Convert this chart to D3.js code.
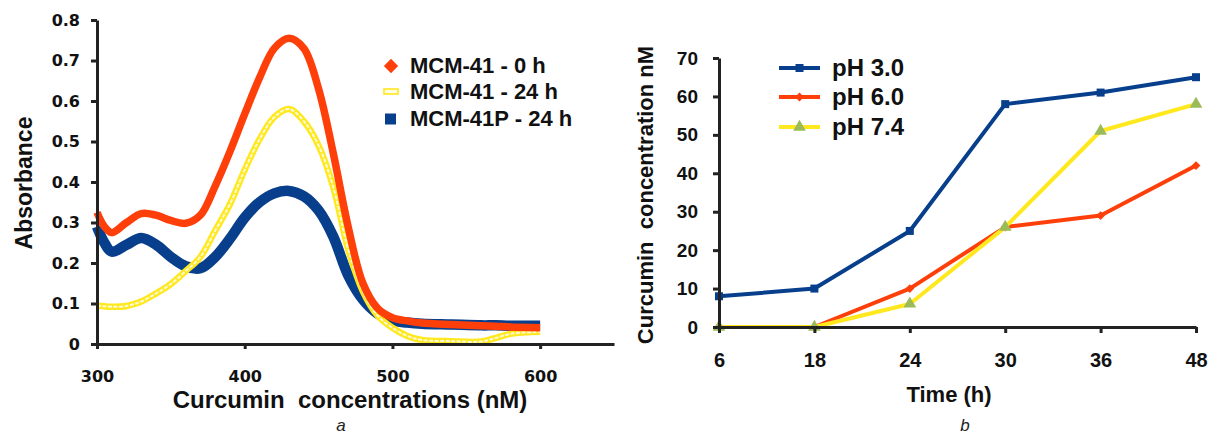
<!DOCTYPE html>
<html>
<head>
<meta charset="utf-8">
<script src="https://cdn.jsdelivr.net/npm/d3@7"></script>
<style>
  body { margin: 0; background: #fff; }
  svg { display: block; }
  .tickA text { font-family: "DejaVu Sans", sans-serif; font-weight: bold; font-size: 16px; fill: #111; }
  .tickB text { font-family: "Liberation Sans", Arial, sans-serif; font-weight: bold; fill: #111; }
  .axis path, .axis line { stroke: #222; stroke-width: 3; }
  .ttl { font-family: "Liberation Sans", Arial, sans-serif; font-weight: bold; fill: #111; }
</style>
</head>
<body>
<div id="container"></div>
<script>
// ---- panel a : absorbance spectra ----
var wavelengths = [300,305,310,320,330,340,350,360,370,380,390,400,410,420,430,440,450,460,470,480,490,500,510,520,540,560,570,580,600];
var abs0h   = [.325,.29,.275,.30,.322,.318,.305,.298,.318,.39,.475,.568,.657,.73,.755,.73,.63,.47,.29,.15,.088,.065,.057,.052,.048,.045,.044,.042,.04];
var abs24h  = [.095,.093,.092,.094,.105,.125,.148,.18,.215,.28,.345,.43,.505,.56,.58,.55,.49,.387,.235,.13,.07,.04,.02,.01,.007,.006,.015,.025,.03];
var absP24h = [.29,.25,.228,.245,.262,.245,.215,.192,.187,.215,.26,.312,.35,.372,.378,.365,.33,.265,.17,.11,.075,.058,.053,.05,.048,.046,.046,.045,.045];
var specNames = ["MCM-41 - 0 h", "MCM-41 - 24 h", "MCM-41P - 24 h"];
var absTicks = [0, .1, .2, .3, .4, .5, .6, .7, .8];
var wlTicks = [300, 400, 500, 600];

// ---- panel b : release over time ----
var hours = ["6", "18", "24", "30", "36", "48"];
var ph30 = [8, 10, 25, 58, 61, 65];
var ph60 = [0, 0, 10, 26, 29, 42];
var ph74 = [0, 0, 6, 26, 51, 58];
var phNames = ["pH 3.0", "pH 6.0", "pH 7.4"];
var concTicks = [0, 10, 20, 30, 40, 50, 60, 70];

var RED = "#ff3f0a", BLUE = "#073f8c", YEL = "#ffe81e", GREEN = "#9bbb59";

var svg = d3.select("#container").append("svg")
    .attr("width", 1215)
    .attr("height", 437);

// ================= panel a =================
var xA = d3.scaleLinear().domain([300, 650]).range([97, 614]);
var yA = d3.scaleLinear().domain([0, .8]).range([344, 20]);

var specLine = d3.line()
    .x(function(d) { return xA(d[0]); })
    .y(function(d) { return yA(d[1]); })
    .curve(d3.curveCatmullRom.alpha(0.5));

function pairs(vals) { return wavelengths.map(function(w, i) { return [w, vals[i]]; }); }

var gA = svg.append("g");

// blue (bottom), yellow, red (top)
gA.append("path").datum(pairs(absP24h))
    .attr("d", specLine).attr("fill", "none")
    .attr("stroke", BLUE).attr("stroke-width", 10.5);
gA.append("path").datum(pairs(abs24h))
    .attr("d", specLine).attr("fill", "none")
    .attr("stroke", YEL).attr("stroke-width", 6.5);
gA.append("path").datum(pairs(abs24h))
    .attr("d", specLine).attr("fill", "none")
    .attr("stroke", "#fffbd8").attr("stroke-width", 2)
    .attr("stroke-dasharray", "4,1.5");
gA.append("path").datum(pairs(abs0h))
    .attr("d", specLine).attr("fill", "none")
    .attr("stroke", RED).attr("stroke-width", 7.5);

gA.append("g").attr("class", "axis tickA")
    .attr("transform", "translate(0,344)")
    .call(d3.axisBottom(xA).tickValues(wlTicks).tickSize(5).tickSizeOuter(0).tickPadding(22));
gA.append("g").attr("class", "axis tickA")
    .attr("transform", "translate(97,0)")
    .call(d3.axisLeft(yA).tickValues(absTicks).tickSize(6).tickSizeOuter(0).tickPadding(11)
        .tickFormat(function(d) { return d === 0 ? "0" : d3.format(".1f")(d); }));

gA.append("text").attr("class", "ttl")
    .attr("x", 350).attr("y", 408)
    .attr("text-anchor", "middle").style("font-size", "24px")
    .attr("xml:space", "preserve")
    .text("Curcumin  concentrations (nM)");
gA.append("text").attr("class", "ttl")
    .attr("transform", "translate(32,183) rotate(-90)")
    .attr("text-anchor", "middle").style("font-size", "23px")
    .text("Absorbance");

// legend a
var legA = gA.append("g");
var legY = [66, 92, 119];
legA.append("path")
    .attr("d", d3.symbol().type(d3.symbolDiamond2).size(130)())
    .attr("transform", "translate(391," + legY[0] + ")")
    .attr("fill", RED);
legA.append("rect")
    .attr("x", 384).attr("y", legY[1] - 3).attr("width", 14).attr("height", 5)
    .attr("fill", "#fffde8").attr("stroke", YEL).attr("stroke-width", 1.6);
legA.append("rect")
    .attr("x", 385).attr("y", legY[2] - 5.5).attr("width", 11).attr("height", 11)
    .attr("fill", BLUE);
legA.selectAll("text.lg").data(specNames).enter().append("text")
    .attr("class", "ttl lg")
    .attr("x", 410).attr("y", function(d, i) { return legY[i] + 7; })
    .style("font-size", "22px")
    .text(function(d) { return d; });

gA.append("text")
    .attr("x", 341).attr("y", 431).attr("text-anchor", "middle")
    .style("font-family", "Liberation Sans, Arial, sans-serif")
    .style("font-style", "italic").style("font-size", "17px").attr("fill", "#222")
    .text("a");

// ================= panel b =================
var xB = d3.scalePoint().domain(hours).range([719, 1196]);
var yB = d3.scaleLinear().domain([0, 70]).range([327, 58]);

var gB = svg.append("g");

var series = [
  { name: phNames[0], vals: ph30, color: BLUE, mark: "square" },
  { name: phNames[1], vals: ph60, color: RED, mark: "diamond" },
  { name: phNames[2], vals: ph74, color: YEL, mark: "triangle" }
];

var lineB = d3.line()
    .x(function(d, i) { return xB(hours[i]); })
    .y(function(d) { return yB(d); });

function marker(sel, type, color) {
  if (type === "square") {
    sel.append("rect").attr("x", -4).attr("y", -4).attr("width", 8).attr("height", 8).attr("fill", color);
  } else if (type === "diamond") {
    sel.append("path").attr("d", d3.symbol().type(d3.symbolDiamond2).size(50)()).attr("fill", color);
  } else {
    sel.append("path").attr("d", d3.symbol().type(d3.symbolTriangle).size(70)()).attr("fill", GREEN);
  }
}

// red under yellow under blue, as in the figure
[series[1], series[2], series[0]].forEach(function(s) {
  gB.append("path").datum(s.vals)
      .attr("d", lineB).attr("fill", "none")
      .attr("stroke", s.color).attr("stroke-width", 4)
      .attr("stroke-linejoin", "round");
  s.vals.forEach(function(v, i) {
    var m = gB.append("g").attr("transform", "translate(" + xB(hours[i]) + "," + yB(v) + ")");
    marker(m, s.mark, s.color);
  });
});

gB.append("g").attr("class", "axis tickB")
    .attr("transform", "translate(0,327)")
    .call(d3.axisBottom(xB).tickSize(6).tickSizeOuter(0).tickPadding(20))
    .selectAll("text").style("font-size", "20px");
gB.append("g").attr("class", "axis tickB")
    .attr("transform", "translate(719,0)")
    .call(d3.axisLeft(yB).tickValues(concTicks).tickSize(6).tickSizeOuter(0).tickPadding(15))
    .selectAll("text").style("font-size", "19px");

gB.append("text").attr("class", "ttl")
    .attr("x", 949).attr("y", 402)
    .attr("text-anchor", "middle").style("font-size", "22px")
    .text("Time (h)");
gB.append("text").attr("class", "ttl")
    .attr("transform", "translate(653,195) rotate(-90)")
    .attr("text-anchor", "middle").style("font-size", "22px")
    .attr("xml:space", "preserve")
    .text("Curcumin  concentration nM");

// legend b
var legBY = [68, 97, 127];
series.forEach(function(s, i) {
  var g = gB.append("g").attr("transform", "translate(0," + legBY[i] + ")");
  g.append("line").attr("x1", 779).attr("x2", 820)
      .attr("stroke", s.color).attr("stroke-width", 4);
  var m = g.append("g").attr("transform", "translate(799.5,0)");
  marker(m, s.mark, s.color);
  g.append("text").attr("class", "ttl")
      .attr("x", 832).attr("y", 8)
      .style("font-size", "24px")
      .text(s.name);
});

gB.append("text")
    .attr("x", 965).attr("y", 431).attr("text-anchor", "middle")
    .style("font-family", "Liberation Sans, Arial, sans-serif")
    .style("font-style", "italic").style("font-size", "17px").attr("fill", "#222")
    .text("b");
</script>
</body>
</html>
